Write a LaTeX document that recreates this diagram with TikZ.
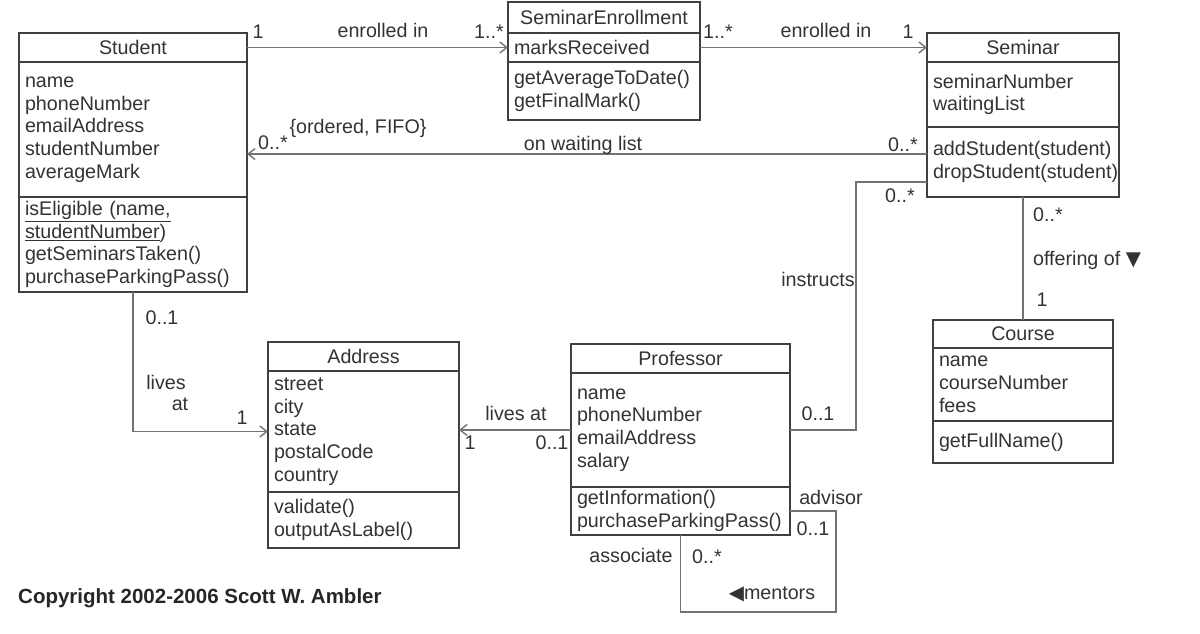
\documentclass[tikz,border=0pt]{standalone}
\usepackage{fontspec}
\setmainfont{Liberation Sans}
\newfontfamily\symb{DejaVu Sans}
\usetikzlibrary{shapes,arrows,arrows.meta,positioning}
\tikzstyle{box} = [draw=black!75, line width=1.4pt, outer sep=0pt, inner xsep=6pt, inner ysep=1pt, text=black!80]
\tikzstyle{classname} = [box, anchor=north west]
\tikzstyle{comp} = [box, align=left]
\tikzstyle{assoc} = [draw=black!55, line width=1.4pt]
\tikzstyle{lbl} = [inner sep=0pt, text=black!80]

\begin{document}
\begin{tikzpicture}[x=1pt,y=-1pt,>={Straight Barb[length=7pt,width=11pt]},font=\fontsize{19.7}{22.75}\selectfont]
\useasboundingbox (0,0) rectangle (1200,634);

% classes
\node[classname, minimum width=228pt, minimum height=29pt] (student) at (19,33) {Student};
\node[comp, below=0pt of student, text width=216pt, minimum height=135pt] (studentA) {name\\phoneNumber\\emailAddress\\studentNumber\\averageMark};
\node[comp, below=0pt of studentA, text width=216pt, minimum height=95pt] (studentM) {\underline{isEligible (name,}\\\underline{studentNumber})\\getSeminarsTaken()\\purchaseParkingPass()};

\node[classname, minimum width=192pt, minimum height=31pt] (enroll) at (508,2) {SeminarEnrollment};
\node[comp, below=0pt of enroll, text width=180pt, minimum height=29pt] (enrollA) {marksReceived};
\node[comp, below=0pt of enrollA, text width=180pt, minimum height=58pt] (enrollM) {getAverageToDate()\\getFinalMark()};

\node[classname, minimum width=192pt, minimum height=29pt] (seminar) at (927,33) {Seminar};
\node[comp, below=0pt of seminar, text width=180pt, minimum height=65pt] (seminarA) {seminarNumber\\waitingList};
\node[comp, below=0pt of seminarA, text width=180pt, minimum height=70pt] (seminarM) {addStudent(student)\\dropStudent(student)};

\node[classname, minimum width=191pt, minimum height=29pt] (address) at (268,342) {Address};
\node[comp, below=0pt of address, text width=179pt, minimum height=121pt] (addressA) {street\\city\\state\\postalCode\\country};
\node[comp, below=0pt of addressA, text width=179pt, minimum height=56pt] (addressM) {validate()\\outputAsLabel()};

\node[classname, minimum width=219pt, minimum height=29pt] (prof) at (571,344) {Professor};
\node[comp, below=0pt of prof, text width=207pt, minimum height=114pt] (profA) {name\\phoneNumber\\emailAddress\\salary};
\node[comp, below=0pt of profA, text width=207pt, minimum height=48pt] (profM) {getInformation()\\purchaseParkingPass()};

\node[classname, minimum width=180pt, minimum height=28pt] (course) at (933,320) {Course};
\node[comp, below=0pt of course, text width=168pt, minimum height=73pt] (courseA) {name\\courseNumber\\fees};
\node[comp, below=0pt of courseA, text width=168pt, minimum height=42pt] (courseM) {getFullName()};

% associations
\coordinate (wait) at ([yshift=8pt]seminarM.west);
\coordinate (teach) at ([yshift=-20pt]seminarM.west);
\coordinate (mentor) at ([xshift=46pt,yshift=-101pt]profM.east);

\draw[assoc,->] (student.east) -- (enrollA.west);
\draw[assoc,->] (enrollA.east) -- (seminar.west);
\draw[assoc,->] (wait) -- (wait -| studentA.east);
\draw[assoc] (teach) -| ([xshift=66pt]profA.east) -- (profA.east);
\draw[assoc] (seminarM.south) -- (seminarM.south |- course.north);
\draw[assoc,->] (studentM.south) |- (addressA.west);
\draw[assoc,->] (profA.west) -- (profA.west -| addressA.east);
\draw[assoc] (profM.east) -| (mentor) -| (profM.south);

% labels
\node[lbl] (l1) at (258,32) {1};
\node[lbl] (l2) at (383,30) {enrolled in};
\node[lbl] (l3) at (489,32) {1..*};
\node[lbl] (l4) at (718,32) {1..*};
\node[lbl] (l5) at (826,30) {enrolled in};
\node[lbl] (l6) at (908,32) {1};
\node[lbl] (l7) at (273,143) {0..*};
\node[lbl] (l8) at (358,128) {\{ordered, FIFO\}};
\node[lbl] (l9) at (583,145) {on waiting list};
\node[lbl] (l10) at (903,145) {0..*};
\node[lbl] (l11) at (900,196) {0..*};
\node[lbl] (l12) at (818,279) {instructs};
\node[lbl] (l13) at (818,414) {0..1};
\node[lbl] (l14) at (1048,215) {0..*};
\node[lbl] (l15) at (1087,260) {offering of {\symb ▼}};
\node[lbl] (l16) at (1042,300) {1};
\node[lbl] (l17) at (162,318) {0..1};
\node[lbl] (l18) at (166,382) {lives};
\node[lbl] (l19) at (180,404) {at};
\node[lbl] (l20) at (242,418) {1};
\node[lbl] (l21) at (516,413) {lives at};
\node[lbl] (l22) at (470,443) {1};
\node[lbl] (l23) at (552,443) {0..1};
\node[lbl] (l24) at (831,497) {advisor};
\node[lbl] (l25) at (813,529) {0..1};
\node[lbl] (l26) at (631,555) {associate};
\node[lbl] (l27) at (707,557) {0..*};
\node[lbl] (l28) at (772,594) {{\symb ◀}mentors};

\node[anchor=west, inner sep=0pt, text=black!85, font=\fontsize{20.5}{24}\selectfont\bfseries] (copy) at (18,598) {Copyright 2002-2006 Scott W. Ambler};

\end{tikzpicture}
\end{document}
